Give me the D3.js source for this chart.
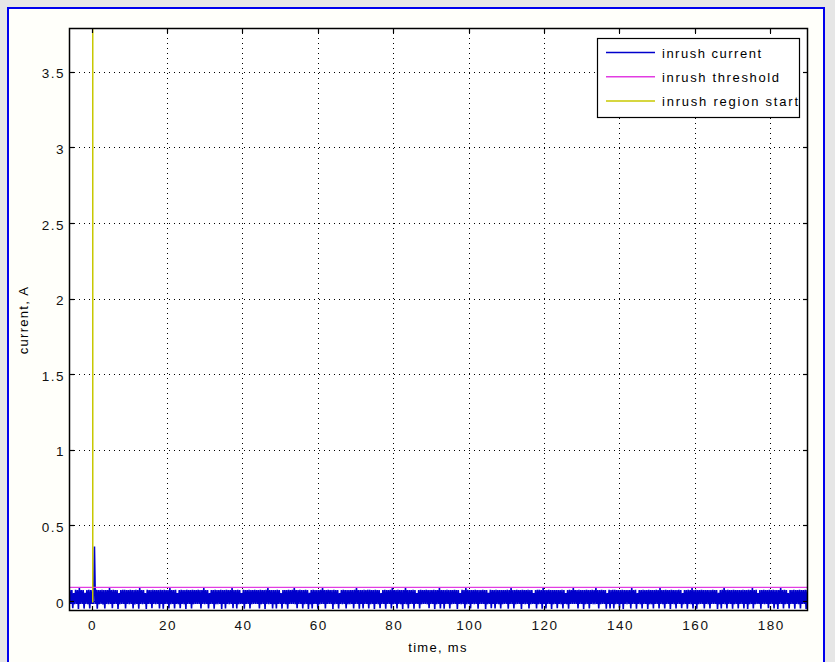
<!DOCTYPE html>
<html><head><meta charset="utf-8">
<script src="https://cdn.jsdelivr.net/npm/d3@7"></script>
<style>
body{margin:0;background:#e6e6e6;}
svg{display:block;font-family:"Liberation Sans",Arial,Helvetica,sans-serif;}
</style>
</head><body>
<svg id="chart" width="835" height="662"></svg>
<script>
// ---- data ----
const xTickValues = [0, 20, 40, 60, 80, 100, 120, 140, 160, 180];
const yTickValues = [0, 0.5, 1, 1.5, 2, 2.5, 3, 3.5];
const yTickLabels = ["0", "0.5", "1", "1.5", "2", "2.5", "3", "3.5"];
const xDomain = [-6, 190];
const yDomain = [-0.066, 3.79];
const seriesNames = ["inrush current", "inrush threshold", "inrush region start"];
const thresholdA = 0.09;
const regionStartMs = 0.3;
const regionStartSpan = [-0.01, 4];
const sampleStartMs = -6.5;
const sampleStepMs = 0.5;
// per-sample peak currents (mA)
const peakMilliAmps = [
 55,72,73,52,74,72,86,73,72,54,
 73,74,72,73,360,74,72,73,74,72,
 72,73,86,72,74,73,72,52,73,74,
 74,72,73,74,72,73,74,72,86,73,
 73,52,74,72,73,74,72,73,72,74,
 72,74,73,72,86,72,73,74,53,72,
 74,73,72,74,73,72,74,73,72,74,
 73,72,86,73,72,52,73,72,74,73,
 72,74,73,72,74,73,72,86,73,72,
 74,73,53,74,72,73,74,72,73,74,
 73,72,74,73,72,74,86,73,72,73,
 72,74,73,52,73,72,73,74,72,74,
 86,73,72,74,73,72,74,73,54,72,
 74,72,73,72,74,86,72,73,74,73,
 73,74,72,73,52,73,74,72,73,72,
 72,73,74,86,73,72,73,74,72,74,
 74,72,73,74,72,73,52,73,74,72,
 73,74,86,72,73,74,72,73,72,86,
 72,73,72,74,73,53,73,74,73,72,
 74,72,73,72,74,73,72,86,72,73,
 73,74,72,73,72,74,73,72,52,74,
 72,86,74,72,73,72,74,73,72,73,
 74,73,72,54,74,73,72,74,73,72,
 73,72,73,74,72,86,73,72,74,73,
 72,74,72,73,74,72,73,52,73,74,
 74,73,86,72,73,74,72,73,72,73,
 73,72,74,73,52,73,74,72,86,72,
 72,74,73,72,73,74,72,73,74,73,
 86,73,72,74,72,73,53,74,72,74,
 74,72,73,73,74,72,73,72,73,86,
 73,74,52,72,73,74,72,73,74,72,
 72,73,74,73,86,72,73,74,72,73,
 74,72,73,72,74,73,52,72,73,74,
 73,86,72,74,73,72,74,73,72,73,
 72,73,74,72,73,54,73,74,86,72,
 74,72,73,74,72,73,72,73,74,73,
 73,74,72,86,73,74,52,72,73,74,
 72,73,74,72,74,73,72,73,86,72,
 74,72,53,73,72,74,73,72,74,73,
 73,74,72,73,86,72,73,74,72,52
];
// per-sample trough currents (mA)
const troughMilliAmps = [
 -22,-50,-20,-48,-21,-20,-52,-20,-20,-50,
 -20,-21,-49,-20,-20,-20,-51,-21,-20,-22,
 -50,-20,-21,-20,-48,-20,-20,-52,-21,-20,
 -20,-49,-20,-21,-20,-50,-22,-20,-51,-20,
 -21,-20,-52,-20,-20,-48,-20,-21,-20,-50,
 -20,-51,-20,-20,-49,-21,-20,-50,-20,-21,
 -48,-20,-21,-52,-20,-20,-50,-21,-20,-20,
 -20,-50,-20,-21,-20,-49,-20,-20,-51,-21,
 -21,-20,-52,-20,-50,-20,-21,-20,-48,-20,
 -50,-21,-20,-20,-51,-20,-20,-49,-21,-20,
 -20,-20,-50,-21,-20,-52,-20,-21,-20,-50,
 -21,-49,-20,-20,-50,-20,-21,-51,-20,-20,
 -20,-21,-48,-20,-20,-50,-21,-20,-52,-21,
 -50,-20,-20,-51,-21,-20,-20,-49,-20,-20,
 -20,-52,-21,-20,-50,-20,-21,-20,-50,-21,
 -21,-20,-49,-20,-20,-51,-20,-50,-20,-20,
 -50,-21,-20,-52,-20,-21,-48,-20,-20,-51,
 -20,-20,-50,-21,-20,-49,-20,-21,-52,-20,
 -21,-50,-20,-20,-51,-20,-20,-50,-21,-20,
 -20,-21,-48,-20,-20,-52,-21,-20,-49,-20,
 -51,-20,-20,-50,-21,-20,-20,-52,-20,-21,
 -20,-49,-21,-20,-50,-20,-21,-20,-51,-20,
 -20,-20,-52,-21,-20,-48,-20,-50,-20,-21,
 -50,-21,-20,-20,-51,-20,-20,-49,-21,-20,
 -20,-52,-20,-21,-20,-50,-21,-20,-20,-50,
 -21,-20,-51,-20,-49,-20,-20,-52,-21,-20,
 -48,-20,-21,-50,-20,-21,-51,-20,-20,-20,
 -20,-50,-20,-20,-52,-21,-20,-49,-20,-21,
 -21,-20,-50,-21,-20,-20,-51,-20,-50,-20,
 -50,-21,-20,-48,-20,-52,-20,-21,-20,-49,
 -20,-20,-51,-20,-21,-50,-20,-20,-52,-21,
 -21,-50,-20,-20,-49,-20,-21,-50,-20,-20,
 -52,-20,-21,-50,-20,-20,-48,-21,-20,-51,
 -20,-21,-50,-20,-51,-21,-20,-20,-50,-20,
 -21,-49,-20,-20,-20,-52,-21,-50,-20,-21,
 -50,-20,-20,-51,-21,-20,-49,-20,-20,-50,
 -20,-52,-21,-20,-50,-21,-20,-20,-51,-20,
 -21,-20,-48,-20,-20,-50,-21,-52,-20,-20,
 -50,-21,-20,-49,-20,-20,-51,-20,-21,-50,
 -20,-20,-52,-21,-50,-20,-20,-49,-21,-20
];
const colors = { current: "#0000cc", threshold: "#e23ce2", region: "#c8c800" };

// ---- layout ----
const svg = d3.select("#chart");
const L = 69, R = 808, T = 28, B = 611;
const x = d3.scaleLinear().domain(xDomain).range([L, R]);
const y = d3.scaleLinear().domain(yDomain).range([B, T]);

// outer frame
svg.append("rect").attr("x", 8).attr("y", 8).attr("width", 816).attr("height", 680)
  .attr("fill", "#fffffa").attr("stroke", "#0000ee").attr("stroke-width", 2);

// plot background
svg.append("rect").attr("x", L).attr("y", T).attr("width", R - L).attr("height", B - T).attr("fill", "#ffffff");

svg.append("defs").append("clipPath").attr("id", "clip")
  .append("rect").attr("x", L).attr("y", T).attr("width", R - L).attr("height", B - T);

// grid
const grid = svg.append("g").attr("stroke", "#000").attr("stroke-width", 1).attr("stroke-dasharray", "1,4");
grid.selectAll("line.v").data(xTickValues).join("line").attr("class", "v")
  .attr("x1", d => Math.round(x(d)) + 0.5).attr("x2", d => Math.round(x(d)) + 0.5)
  .attr("y1", T).attr("y2", B);
grid.selectAll("line.h").data(yTickValues).join("line").attr("class", "h")
  .attr("y1", d => Math.round(y(d)) + 0.5).attr("y2", d => Math.round(y(d)) + 0.5)
  .attr("x1", L).attr("x2", R);

// data series
const plot = svg.append("g").attr("clip-path", "url(#clip)");
const pts = [];
peakMilliAmps.forEach((p, i) => {
  pts.push([sampleStartMs + i * sampleStepMs, troughMilliAmps[i] / 1000]);
  pts.push([sampleStartMs + (i + 0.5) * sampleStepMs, p / 1000]);
});
const line = d3.line().x(d => x(d[0])).y(d => y(d[1]));
plot.append("path").datum(pts).attr("d", line).attr("fill", "none")
  .attr("stroke", colors.current).attr("stroke-width", 1.6);
plot.append("path").datum([[xDomain[0], thresholdA], [xDomain[1], thresholdA]]).attr("d", line)
  .attr("fill", "none").attr("stroke", colors.threshold).attr("stroke-width", 1.2);
plot.append("path").datum(regionStartSpan.map(v => [regionStartMs, v])).attr("d", line)
  .attr("fill", "none").attr("stroke", colors.region).attr("stroke-width", 1.5);

// axes box
svg.append("rect").attr("x", L + 0.5).attr("y", T + 0.5).attr("width", R - L - 1).attr("height", B - T - 1)
  .attr("fill", "none").attr("stroke", "#000").attr("stroke-width", 1.5);

// ticks (inward, all sides) + labels
const tickLen = 5;
const tk = svg.append("g").attr("stroke", "#000").attr("stroke-width", 1.2);
xTickValues.forEach(v => {
  const px = Math.round(x(v)) + 0.5;
  tk.append("line").attr("x1", px).attr("x2", px).attr("y1", B).attr("y2", B - tickLen);
  tk.append("line").attr("x1", px).attr("x2", px).attr("y1", T).attr("y2", T + tickLen);
});
yTickValues.forEach(v => {
  const py = Math.round(y(v)) + 0.5;
  tk.append("line").attr("x1", L).attr("x2", L + tickLen).attr("y1", py).attr("y2", py);
  tk.append("line").attr("x1", R).attr("x2", R - tickLen).attr("y1", py).attr("y2", py);
});
const labelStyle = sel => sel.attr("font-size", 13.5).attr("fill", "#111").attr("letter-spacing", 1.5);
svg.append("g").selectAll("text").data(xTickValues).join("text")
  .attr("x", d => x(d) + 1).attr("y", 630).attr("text-anchor", "middle")
  .text(d => String(d)).call(labelStyle);
svg.append("g").selectAll("text").data(yTickValues).join("text")
  .attr("x", 65).attr("y", d => y(d) + 6.5).attr("text-anchor", "end")
  .text((d, i) => yTickLabels[i]).call(labelStyle);

// axis titles
svg.append("text").attr("x", 438).attr("y", 652).attr("text-anchor", "middle")
  .attr("font-size", 13).attr("letter-spacing", 1.3).text("time, ms");
svg.append("text").attr("transform", "translate(28,320) rotate(-90)").attr("text-anchor", "middle")
  .attr("font-size", 13).attr("letter-spacing", 1.3).text("current, A");

// legend
const lg = svg.append("g");
lg.append("rect").attr("x", 597.5).attr("y", 38.5).attr("width", 202).attr("height", 79)
  .attr("fill", "#fff").attr("stroke", "#000").attr("stroke-width", 1.2);
const legendColors = [colors.current, colors.threshold, colors.region];
const legendWidths = [99, 117, 136];
seriesNames.forEach((name, i) => {
  const ly = 52.5 + i * 24.2;
  lg.append("line").attr("x1", 606).attr("x2", 655).attr("y1", ly).attr("y2", ly)
    .attr("stroke", legendColors[i]).attr("stroke-width", 1.5);
  lg.append("text").attr("x", 662).attr("y", ly + 5.5).attr("font-size", 13)
    .attr("textLength", legendWidths[i]).attr("lengthAdjust", "spacing").text(name);
});
</script>
</body></html>
